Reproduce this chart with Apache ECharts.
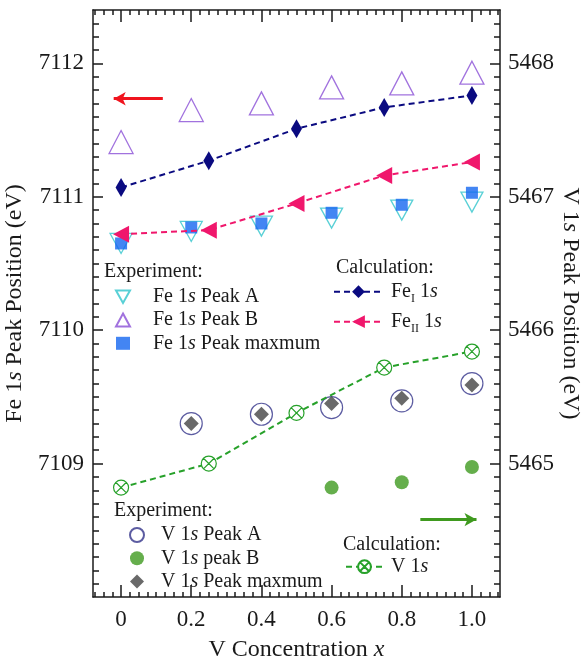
<!DOCTYPE html>
<html>
<head>
<meta charset="utf-8">
<script src="https://cdn.jsdelivr.net/npm/echarts@6/dist/echarts.min.js"></script>
<style>html,body{margin:0;padding:0;background:#fff;}#c{width:582px;height:660px;}</style>
</head>
<body>
<div id="c"></div>
<script>
// ---- data ----
const xCalc = [0, 0.25, 0.5, 0.75, 1.0];
const xExp = [0, 0.2, 0.4, 0.6, 0.8, 1.0];
const feI = [7111.07, 7111.27, 7111.51, 7111.67, 7111.76];
const feII = [7110.72, 7110.75, 7110.95, 7111.16, 7111.26];
const fePeakA = [7110.65, 7110.74, 7110.78, 7110.84, 7110.90, 7110.96];
const fePeakB = [7111.41, 7111.65, 7111.70, 7111.82, 7111.85, 7111.93];
const fePeakMax = [7110.65, 7110.77, 7110.80, 7110.88, 7110.94, 7111.03];
const vCalc = [5464.82, 5465.00, 5465.38, 5465.72, 5465.84];
const xVA = [0.2, 0.4, 0.6, 0.8, 1.0];
const vPeakA = [5465.30, 5465.37, 5465.42, 5465.47, 5465.60];
const vPeakMax = [5465.30, 5465.37, 5465.45, 5465.49, 5465.59];
const xVB = [0.6, 0.8, 1.0];
const vPeakB = [5464.82, 5464.86, 5464.975];
const xTicks = [0, 0.2, 0.4, 0.6, 0.8, 1.0];
const feTicks = [7109, 7110, 7111, 7112];
const vTicks = [5465, 5466, 5467, 5468];
// arrow annotations (data coordinates)
const feArrow = [[0.119, 7111.735], [-0.021, 7111.735]];
const vArrow = [[0.853, 5464.58], [1.013, 5464.58]];

const FONT = 'Liberation Serif';
const INK = '#1a1a1a';
const DOWN_TRI = 'path://M0,0L20,0L10,18Z';
const CIRCLE_X = 'path://M1,10A9,9 0 1,1 19,10A9,9 0 1,1 1,10Z M3.6,3.6L16.4,16.4M16.4,3.6L3.6,16.4';
const pair = (xs, ys) => xs.map((x, i) => [x, ys[i]]);
function range(a, b, step, skipEvery) {
  const out = [];
  const n = Math.round((b - a) / step);
  for (let k = 0; k <= n; k++) {
    const v = +(a + k * step).toFixed(4);
    if (skipEvery && Math.abs(v / skipEvery - Math.round(v / skipEvery)) < 1e-6) continue;
    out.push(v);
  }
  return out;
}
const xMinor = range(-0.075, 1.075, 0.025, 0.2);
const feMinor = range(7108.1, 7112.3, 0.1, 1);
const vMinor = range(5464.1, 5468.3, 0.1, 1);

const rich = {
  i: { fontStyle: 'italic', fontFamily: FONT, fontSize: 20, color: INK },
  sub: { fontFamily: FONT, fontSize: 12, verticalAlign: 'bottom', color: INK }
};
const richAxis = {
  i: { fontStyle: 'italic', fontFamily: FONT, fontSize: 24, color: INK }
};
function fmt(name) {
  return name.replace('FeII', 'Fe{sub|II}').replace('FeI ', 'Fe{sub|I} ')
    .replace('V 1s ', 'V 1{i|s} ').replace(/1s$/, '1{i|s}').replace('1s ', '1{i|s} ');
}
const tickLine = { color: INK, width: 1.5 };
const labelStyle = { fontFamily: FONT, fontSize: 23, color: INK };

function xAxisDef(pos, major, showName) {
  return {
    type: 'value', min: -0.08, max: 1.08, position: pos,
    axisLine: { show: major, onZero: false, lineStyle: tickLine },
    axisTick: { show: true, inside: true, length: major ? 12 : 5, customValues: major ? xTicks : xMinor, lineStyle: tickLine },
    axisLabel: major && pos === 'bottom' ? {
      show: true, customValues: xTicks, margin: 11, ...labelStyle,
      formatter: v => (v === 0 ? '0' : v.toFixed(1))
    } : { show: false },
    splitLine: { show: false },
    name: showName ? 'V Concentration {i|x}' : '',
    nameLocation: 'middle', nameGap: 41, nameMoveOverlap: false,
    nameTextStyle: { fontFamily: FONT, fontSize: 24, color: INK, rich: richAxis }
  };
}
function yAxisDef(pos, min, max, major, ticks, minor, name, gap, rot, margin) {
  return {
    type: 'value', min: min, max: max, position: pos,
    axisLine: { show: major, onZero: false, lineStyle: tickLine },
    axisTick: { show: true, inside: true, length: major ? 10 : 6, customValues: major ? ticks : minor, lineStyle: tickLine },
    axisLabel: major ? { show: true, customValues: ticks, margin: margin, ...labelStyle, formatter: v => String(Math.round(v)) } : { show: false },
    splitLine: { show: false },
    name: major ? name : '',
    nameLocation: 'middle', nameGap: gap, nameRotate: rot, nameMoveOverlap: false,
    nameTextStyle: { fontFamily: FONT, fontSize: 24, color: INK, rich: richAxis }
  };
}

const headStyle = { fontFamily: FONT, fontSize: 20, fontWeight: 'normal', color: INK };
const legBase = {
  orient: 'vertical', padding: 0, selectedMode: false,
  formatter: fmt
};

const option = {
  animation: false,
  backgroundColor: '#fff',
  grid: { left: 93, right: 82, top: 10, bottom: 63, containLabel: false, outerBoundsMode: 'none' },
  title: [
    { text: 'Experiment:', left: 104, top: 262, padding: 0, textStyle: headStyle },
    { text: 'Calculation:', left: 336, top: 258, padding: 0, textStyle: headStyle },
    { text: 'Experiment:', left: 114, top: 501, padding: 0, textStyle: headStyle },
    { text: 'Calculation:', left: 343, top: 535, padding: 0, textStyle: headStyle }
  ],
  legend: [
    { ...legBase, left: 115, top: 286.7, itemWidth: 14, itemHeight: 13, itemGap: 3.3,
      textStyle: { fontFamily: FONT, fontSize: 20, color: INK, lineHeight: 20, padding: [0, 0, 0, 18], rich: rich },
      data: ['Fe 1s Peak A', 'Fe 1s Peak B', 'Fe 1s Peak maxmum'] },
    { ...legBase, left: 333, top: 278.7, itemWidth: 49, itemHeight: 16, itemGap: 4,
      textStyle: { fontFamily: FONT, fontSize: 20, color: INK, lineHeight: 26, padding: [0, 0, 0, 3], rich: rich },
      data: ['FeI 1s', 'FeII 1s'] },
    { ...legBase, left: 129, top: 525, itemWidth: 14, itemHeight: 14, itemGap: 3.3,
      textStyle: { fontFamily: FONT, fontSize: 20, color: INK, lineHeight: 20, padding: [0, 0, 0, 12], rich: rich },
      data: ['V 1s Peak A', 'V 1s peak B', 'V 1s Peak maxmum'] },
    { ...legBase, left: 345, top: 556.7, itemWidth: 37, itemHeight: 16, itemGap: 4,
      textStyle: { fontFamily: FONT, fontSize: 20, color: INK, lineHeight: 20, padding: [0, 0, 0, 3], rich: rich },
      data: ['V 1s'] }
  ],
  xAxis: [
    xAxisDef('bottom', true, true),
    xAxisDef('bottom', false, false),
    xAxisDef('top', true, false),
    xAxisDef('top', false, false)
  ],
  yAxis: [
    yAxisDef('left', 7108, 7112.4, true, feTicks, feMinor, 'Fe 1{i|s} Peak Position (eV)', 66, 90, 9),
    yAxisDef('left', 7108, 7112.4, false, feTicks, feMinor, '', 0, 90, 9),
    yAxisDef('right', 5464, 5468.4, true, vTicks, vMinor, 'V 1{i|s} Peak Position (eV)', 58, -90, 8),
    yAxisDef('right', 5464, 5468.4, false, vTicks, vMinor, '', 0, -90, 8)
  ],
  series: [
    { name: 'Fe 1s Peak A', type: 'scatter', xAxisIndex: 0, yAxisIndex: 0,
      symbol: DOWN_TRI, symbolSize: [22, 20],
      itemStyle: { color: 'transparent', borderColor: '#2fc4cc', borderWidth: 1.3 },
      data: pair(xExp, fePeakA) },
    { name: 'Fe 1s Peak B', type: 'scatter', xAxisIndex: 0, yAxisIndex: 0,
      symbol: 'triangle', symbolSize: [24, 23],
      itemStyle: { color: 'transparent', borderColor: '#8a4fd6', borderWidth: 1.3 },
      data: pair(xExp, fePeakB) },
    { name: 'Fe 1s Peak maxmum', type: 'scatter', xAxisIndex: 0, yAxisIndex: 0,
      symbol: 'rect', symbolSize: 12,
      itemStyle: { color: '#1466f0' },
      data: pair(xExp, fePeakMax) },
    { name: 'FeI 1s', type: 'line', xAxisIndex: 0, yAxisIndex: 0,
      symbol: 'diamond', symbolSize: [11, 19], showAllSymbol: true,
      lineStyle: { color: '#0a0a80', width: 2, type: [6, 4] },
      itemStyle: { color: '#0a0a80' },
      data: pair(xCalc, feI),
      markLine: { silent: true, symbol: ['none', 'arrow'], symbolSize: [10, 12],
        label: { show: false }, lineStyle: { color: '#f0141e', width: 3, type: 'solid' },
        data: [[{ coord: feArrow[0] }, { coord: feArrow[1] }]] } },
    { name: 'FeII 1s', type: 'line', xAxisIndex: 0, yAxisIndex: 0,
      symbol: 'triangle', symbolRotate: 90, symbolSize: [17, 16], showAllSymbol: true,
      lineStyle: { color: '#f0176c', width: 2, type: [6, 4] },
      itemStyle: { color: '#f0176c' },
      data: pair(xCalc, feII) },
    { name: 'V 1s Peak A', type: 'scatter', xAxisIndex: 0, yAxisIndex: 2,
      symbol: 'circle', symbolSize: 22,
      itemStyle: { color: 'transparent', borderColor: '#33338a', borderWidth: 1.2 },
      data: pair(xVA, vPeakA) },
    { name: 'V 1s Peak maxmum', type: 'scatter', xAxisIndex: 0, yAxisIndex: 2,
      symbol: 'diamond', symbolSize: 15,
      itemStyle: { color: '#444444' },
      data: pair(xVA, vPeakMax) },
    { name: 'V 1s', type: 'line', xAxisIndex: 0, yAxisIndex: 2,
      symbol: CIRCLE_X, symbolSize: 15, showAllSymbol: true,
      lineStyle: { color: '#27a12a', width: 2, type: [6, 4] },
      itemStyle: { color: '#ffffff', borderColor: '#27a12a', borderWidth: 1.2 },
      data: pair(xCalc, vCalc),
      markLine: { silent: true, symbol: ['none', 'arrow'], symbolSize: [10, 12],
        label: { show: false }, lineStyle: { color: '#3f9a1f', width: 3, type: 'solid' },
        data: [[{ coord: vArrow[0] }, { coord: vArrow[1] }]] } },
    { name: 'V 1s peak B', type: 'scatter', xAxisIndex: 0, yAxisIndex: 2,
      symbol: 'circle', symbolSize: 14,
      itemStyle: { color: '#3f9a1f' },
      data: pair(xVB, vPeakB) }
  ]
};
const chart = echarts.init(document.getElementById('c'), null, { renderer: 'canvas' });
chart.setOption(option);
</script>
</body>
</html>
